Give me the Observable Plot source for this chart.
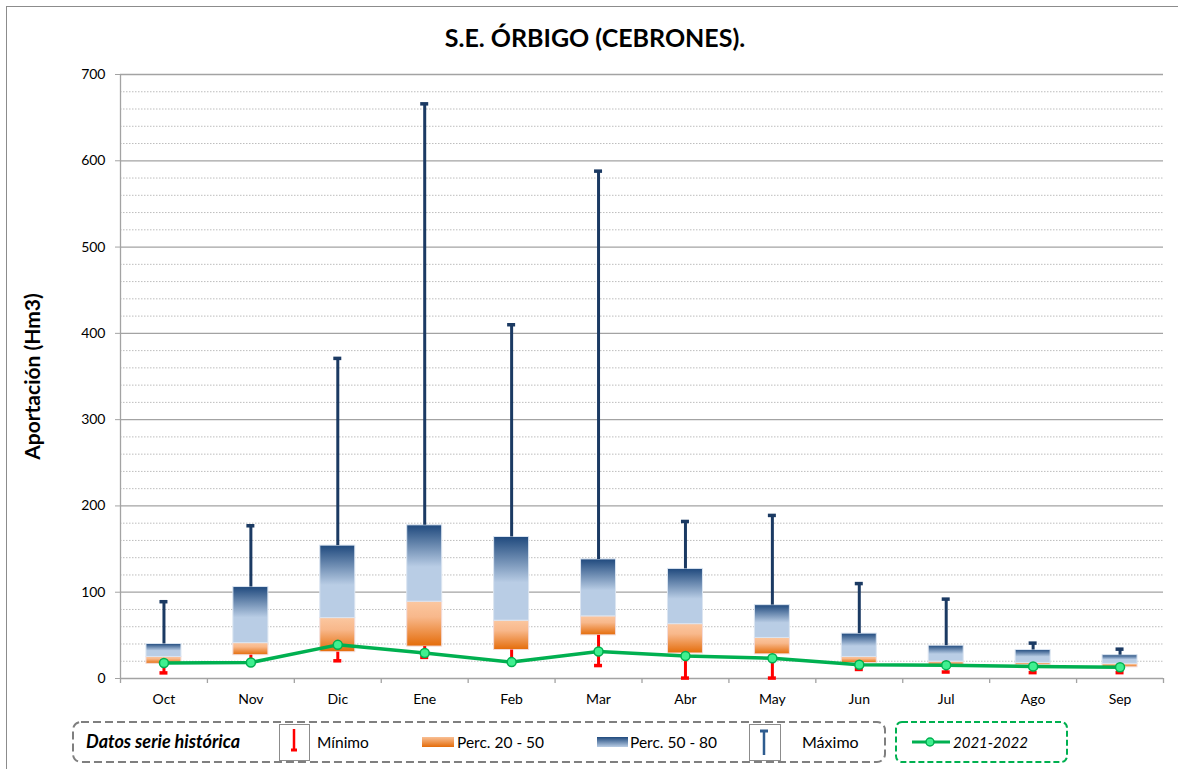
<!DOCTYPE html>
<html>
<head>
<meta charset="utf-8">
<script src="https://cdn.jsdelivr.net/npm/d3@7"></script>
<script src="https://cdn.jsdelivr.net/npm/@observablehq/plot@0.6"></script>
<style>
  html, body { margin: 0; padding: 0; background: #fff; overflow: hidden; }
  body { width: 1178px; height: 769px; position: relative; font-family: Lato, "Open Sans", sans-serif; }
  #frame { position: absolute; left: 6px; top: 6px; width: 1300px; height: 900px; border: 1px solid #8c8c8c; box-sizing: border-box; }
  #title { position: absolute; left: 0; top: 22px; width: 1190px; text-align: center; font-weight: bold; font-size: 25px; color: #000; }
  #chart { position: absolute; left: 0; top: 0; }
  #legend { position: absolute; left: 0; top: 715px; }
</style>
</head>
<body>
<div id="frame"></div>
<div id="chart"></div>
<div id="title">S.E. ÓRBIGO (CEBRONES).</div>
<svg id="legend" width="1178" height="54" xmlns="http://www.w3.org/2000/svg" font-family="Lato, 'Open Sans', sans-serif">
  <defs>
    <linearGradient id="lgOrange" x1="0" y1="0" x2="0" y2="1">
      <stop offset="0" stop-color="#f9bf94"/>
      <stop offset="1" stop-color="#e46c0a"/>
    </linearGradient>
    <linearGradient id="lgBlue" x1="0" y1="0" x2="0" y2="1">
      <stop offset="0" stop-color="#1f497d"/>
      <stop offset="1" stop-color="#b9cde5"/>
    </linearGradient>
  </defs>
  <rect x="73" y="7" width="812" height="40" rx="8" fill="none" stroke="#7f7f7f" stroke-width="2" stroke-dasharray="8,4"/>
  <rect x="896" y="7" width="171" height="40" rx="6" fill="none" stroke="#00b050" stroke-width="2" stroke-dasharray="6,3"/>
  <text x="86" y="33" font-size="18" font-weight="bold" font-style="italic" fill="#000">Datos serie histórica</text>
  <rect x="279.5" y="9.5" width="30" height="36" fill="none" stroke="#8c8c8c" stroke-width="1"/>
  <line x1="294" y1="14" x2="294" y2="35" stroke="#ff0000" stroke-width="2.5"/>
  <line x1="291" y1="35" x2="297" y2="35" stroke="#ff0000" stroke-width="3"/>
  <text x="317" y="33" font-size="15.5" fill="#000">Mínimo</text>
  <rect x="422" y="22" width="32" height="10" fill="url(#lgOrange)"/>
  <text x="457" y="33" font-size="15.5" fill="#000">Perc. 20 - 50</text>
  <rect x="597" y="22" width="31" height="10" fill="url(#lgBlue)"/>
  <text x="630" y="33" font-size="15.5" fill="#000">Perc. 50 - 80</text>
  <rect x="749.5" y="9.5" width="31" height="36" fill="none" stroke="#8c8c8c" stroke-width="1"/>
  <line x1="760" y1="16" x2="768" y2="16" stroke="#2e5c8f" stroke-width="3"/>
  <line x1="764" y1="16" x2="764" y2="40" stroke="#2e5c8f" stroke-width="2.5"/>
  <text x="802" y="33" font-size="16" fill="#000">Máximo</text>
  <line x1="912" y1="27" x2="950" y2="27" stroke="#00b050" stroke-width="3"/>
  <circle cx="930" cy="27" r="4" fill="#40f090" stroke="#00b050" stroke-width="1.5"/>
  <text x="953" y="33" font-size="15" font-style="italic" fill="#000">2021-2022</text>
</svg>
<script>
// ---- Data (Hm3) ----
const months   = ["Oct","Nov","Dic","Ene","Feb","Mar","Abr","May","Jun","Jul","Ago","Sep"];
const minimo   = [6.5, 19, 20.5, 24.5, 19, 15, 0.5, 0.5, 10.5, 7.5, 6.8, 6.8];
const perc20   = [17, 27, 30.5, 37, 33, 50, 29, 28, 18, 16, 15.5, 13];
const perc50   = [25, 41, 70, 89, 67, 72, 63, 47, 25, 19.5, 18, 17];
const perc80   = [40, 106, 154, 177.5, 164, 138, 127, 85, 52, 38, 33, 27];
const maximo   = [89, 177, 371, 666, 410, 588, 182, 189, 110, 92, 41, 34];
const serie2122 = [18, 18.5, 39, 29.5, 19, 31.3, 26, 23.5, 16, 15.5, 14, 13];
const yTicks   = [0, 100, 200, 300, 400, 500, 600, 700];
const yMinor   = d3.range(20, 700, 20).filter(v => v % 100 !== 0);

const data = months.map((m, i) => ({
  m, min: minimo[i], p20: perc20[i], p50: perc50[i], p80: perc80[i], max: maximo[i], v: serie2122[i]
}));

const W = 1178, H = 715;
const mL = 120, mR = 15, mT = 74, mB = 37;
const bw = (W - mL - mR) / months.length;
const boxInset = (bw - 35) / 2;
const capInset = (bw - 8) / 2;

const defs = () => {
  const g = document.createElementNS("http://www.w3.org/2000/svg", "defs");
  g.innerHTML = `
    <linearGradient id="gBlue" x1="0" y1="0" x2="0" y2="1">
      <stop offset="0" stop-color="#1f497d"/>
      <stop offset="0.55" stop-color="#b9cde5"/>
      <stop offset="1" stop-color="#b9cde5"/>
    </linearGradient>
    <linearGradient id="gOrange" x1="0" y1="0" x2="0" y2="1">
      <stop offset="0" stop-color="#fbc7a0"/>
      <stop offset="0.35" stop-color="#f8b88b"/>
      <stop offset="1" stop-color="#e46c0a"/>
    </linearGradient>`;
  return g;
};

const chart = Plot.plot({
  width: W, height: H,
  marginLeft: mL, marginRight: mR, marginTop: mT, marginBottom: mB,
  style: { fontFamily: "Lato, 'Open Sans', sans-serif", fontSize: "14px", color: "#000", background: "transparent", overflow: "visible" },
  x: { type: "band", domain: months, padding: 0, round: false, label: null },
  y: { domain: [0, 700], label: null },
  marks: [
    defs,
    Plot.ruleY(yMinor, { stroke: "#bdbdbd", strokeWidth: 1, strokeDasharray: "1.5,1.5" }),
    Plot.ruleY(yTicks, { stroke: "#a3a3a3", strokeWidth: 1.3 }),
    Plot.ruleX([months[0]], { y1: 0, y2: 700, dx: -bw / 2, stroke: "#a3a3a3", strokeWidth: 1.3 }),
    Plot.ruleX(months, { y1: 0, y2: 0, insetBottom: -5, dx: -bw / 2, stroke: "#a3a3a3", strokeWidth: 1.3 }),
    Plot.ruleX([months[months.length - 1]], { y1: 0, y2: 0, insetBottom: -5, dx: bw / 2, stroke: "#a3a3a3", strokeWidth: 1.3 }),
    Plot.axisY({ ticks: yTicks, tickSize: 5, tickPadding: 10, stroke: "#a3a3a3", fill: "#000", label: null }),
    Plot.axisX({ tickSize: 0, tickPadding: 16, fill: "#000", label: null }),
    Plot.text(["Aportación (Hm3)"], { frameAnchor: "left", textAnchor: "middle", rotate: -90, dx: -87, fontWeight: "bold", fontSize: 21, fill: "#000" }),
    // boxes
    Plot.barY(data, { x: "m", y1: "p20", y2: "p50", fill: "url(#gOrange)", stroke: "#f2dcdb", strokeWidth: 1, insetLeft: boxInset, insetRight: boxInset }),
    Plot.barY(data, { x: "m", y1: "p50", y2: "p80", fill: "url(#gBlue)", stroke: "#dbe5f1", strokeWidth: 1, insetLeft: boxInset, insetRight: boxInset }),
    // max whisker
    Plot.ruleX(data, { x: "m", y1: "p80", y2: "max", stroke: "#1b3a63", strokeWidth: 3 }),
    Plot.tickY(data, { x: "m", y: "max", stroke: "#1b3a63", strokeWidth: 3.5, insetLeft: capInset, insetRight: capInset }),
    // min whisker
    Plot.ruleX(data, { x: "m", y1: "min", y2: "p20", stroke: "#ff0000", strokeWidth: 3 }),
    Plot.tickY(data, { x: "m", y: "min", stroke: "#ff0000", strokeWidth: 3.5, insetLeft: capInset, insetRight: capInset }),
    // 2021-2022 series
    Plot.line(data, { x: "m", y: "v", stroke: "#00b050", strokeWidth: 3.5 }),
    Plot.dot(data, { x: "m", y: "v", r: 4.5, fill: "#40f090", stroke: "#00b050", strokeWidth: 1.5 })
  ]
});
document.getElementById("chart").appendChild(chart);
</script>
</body>
</html>
